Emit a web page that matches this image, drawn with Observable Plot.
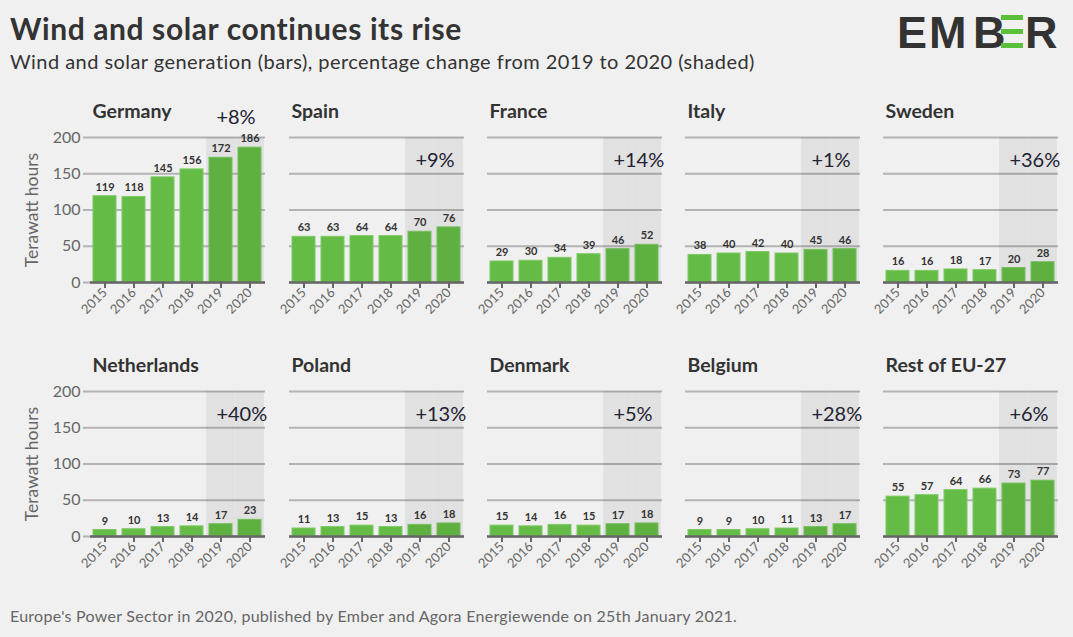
<!DOCTYPE html>
<html><head><meta charset="utf-8">
<script src="https://cdn.jsdelivr.net/npm/d3@7"></script>
<script src="https://cdn.jsdelivr.net/npm/@observablehq/plot@0.6"></script>
<style>
body{margin:0;background:#f0f0f0;font-family:Lato, sans-serif;}
#root{position:relative;width:1073px;height:637px;overflow:hidden;background:#f0f0f0}
.abs{position:absolute;white-space:nowrap;line-height:1}
#title{left:10px;top:13px;font-size:30px;font-weight:700;color:#333;letter-spacing:0.6px}
#subtitle{left:10px;top:51px;font-size:20px;color:#333;letter-spacing:0.45px}
#footer{left:10px;top:608px;font-size:16px;color:#666;letter-spacing:0.27px}
.panel{position:absolute}
</style></head>
<body>
<div id="root">
  <div id="title" class="abs">Wind and solar continues its rise</div>
  <div id="subtitle" class="abs">Wind and solar generation (bars), percentage change from 2019 to 2020 (shaded)</div>
  <svg class="abs" style="left:890px;top:0px" width="180" height="60">
    <g font-family="Liberation Sans, Arial, sans-serif" font-weight="700" font-size="45" fill="#333">
      <text x="7" y="48">E</text>
      <text x="39" y="48">M</text>
      <text x="83" y="48">B</text>
      <text x="135" y="48">R</text>
    </g>
    <g fill="#5cbf3a">
      <rect x="111" y="15" width="22" height="5"></rect>
      <rect x="111" y="29" width="22" height="5"></rect>
      <rect x="111" y="43" width="22" height="5"></rect>
    </g>
  </svg>
  <div id="footer" class="abs">Europe's Power Sector in 2020, published by Ember and Agora Energiewende on 25th January 2021.</div>
</div>
<script>
// ---- data ----
const countries = ["Germany","Spain","France","Italy","Sweden","Netherlands","Poland","Denmark","Belgium","Rest of EU-27"];
const years = ["2015","2016","2017","2018","2019","2020"];
const germany     = [119,118,145,156,172,186];
const spain       = [63,63,64,64,70,76];
const france      = [29,30,34,39,46,52];
const italy       = [38,40,42,40,45,46];
const sweden      = [16,16,18,17,20,28];
const netherlands = [9,10,13,14,17,23];
const poland      = [11,13,15,13,16,18];
const denmark     = [15,14,16,15,17,18];
const belgium     = [9,9,10,11,13,17];
const restEU      = [55,57,64,66,73,77];
const changes = ["+8%","+9%","+14%","+1%","+36%","+40%","+13%","+5%","+28%","+6%"];
const shadedYears = ["2019","2020"];
const yTicks = [0,50,100,150,200];
const yLabel = "Terawatt hours";

const series = [germany,spain,france,italy,sweden,netherlands,poland,denmark,belgium,restEU];

// ---- layout ----
const frameW = 175, frameH = 145;
const colLefts = [90,289,487,685,883];
const rowTops = [137,391];
const mTop = 50, mBottom = 52;
const step = frameW / years.length;
const gapHalf = step * 0.1;

const root = document.getElementById("root");

countries.forEach((name, i) => {
  const col = i % 5, row = Math.floor(i / 5);
  const first = col === 0;
  const mLeft = first ? 90 : 20, mRight = 20;
  const values = series[i];
  const data = years.map((year, k) => ({year, value: values[k]}));
  const shade = shadedYears.map(year => ({year}));
  const maxV = d3.max(values);

  const marks = [
    Plot.gridY(yTicks, {stroke: "#b3b3b3", strokeOpacity: 1, strokeWidth: 2}),
    Plot.barY(data, {x: "year", y: "value", fill: "#64bc46", stroke: "#7dca63", strokeWidth: 1}),
    Plot.barY(shade, {x: "year", y1: 0, y2: 200, fill: "#000", fillOpacity: 0.06, insetLeft: -gapHalf, insetRight: -gapHalf}),
    Plot.ruleY([0], {stroke: "#666", strokeWidth: 2.5}),
    Plot.axisX({tickRotate: -45, tickSize: 6, stroke: "#666", strokeWidth: 2, fill: "#666", fontSize: 13, tickPadding: 2, label: null}),
    Plot.text(data, {x: "year", y: "value", text: "value", dy: -9, fontWeight: 700, fontSize: 11, fill: "#333"}),
    Plot.text([name], {frameAnchor: "top-left", dx: 2, dy: -26, fontSize: 19.5, fontWeight: 700, fill: "#333", textAnchor: "start", lineAnchor: "middle"}),
    Plot.text([{year: "2019", label: changes[i]}], {x: "year", text: "label", frameAnchor: "top", dy: maxV > 150 ? -20 : 23, dx: -4.6, textAnchor: "start", lineAnchor: "middle", fontSize: 20, fill: "#222233"})
  ];
  if (first) {
    marks.push(Plot.axisY(yTicks, {tickSize: 7, stroke: "#b3b3b3", strokeWidth: 2, fill: "#666", fontSize: 16, tickPadding: 3, label: null}));
    marks.push(Plot.text([yLabel], {frameAnchor: "left", rotate: -90, dx: -58, fontSize: 17.5, fill: "#666", textAnchor: "middle", lineAnchor: "middle"}));
  }

  const chart = Plot.plot({
    width: mLeft + frameW + mRight,
    height: mTop + frameH + mBottom,
    marginLeft: mLeft, marginRight: mRight, marginTop: mTop, marginBottom: mBottom,
    style: {background: "transparent", fontFamily: "Lato, sans-serif", overflow: "visible"},
    x: {domain: years, paddingInner: 0.2, paddingOuter: 0.1},
    y: {domain: [0, 200], axis: first ? undefined : null},
    marks
  });
  chart.classList.add("panel");
  chart.style.position = "absolute";
  chart.style.left = (colLefts[col] - mLeft) + "px";
  chart.style.top = (rowTops[row] - mTop) + "px";
  root.appendChild(chart);
});
</script>
</body></html>
